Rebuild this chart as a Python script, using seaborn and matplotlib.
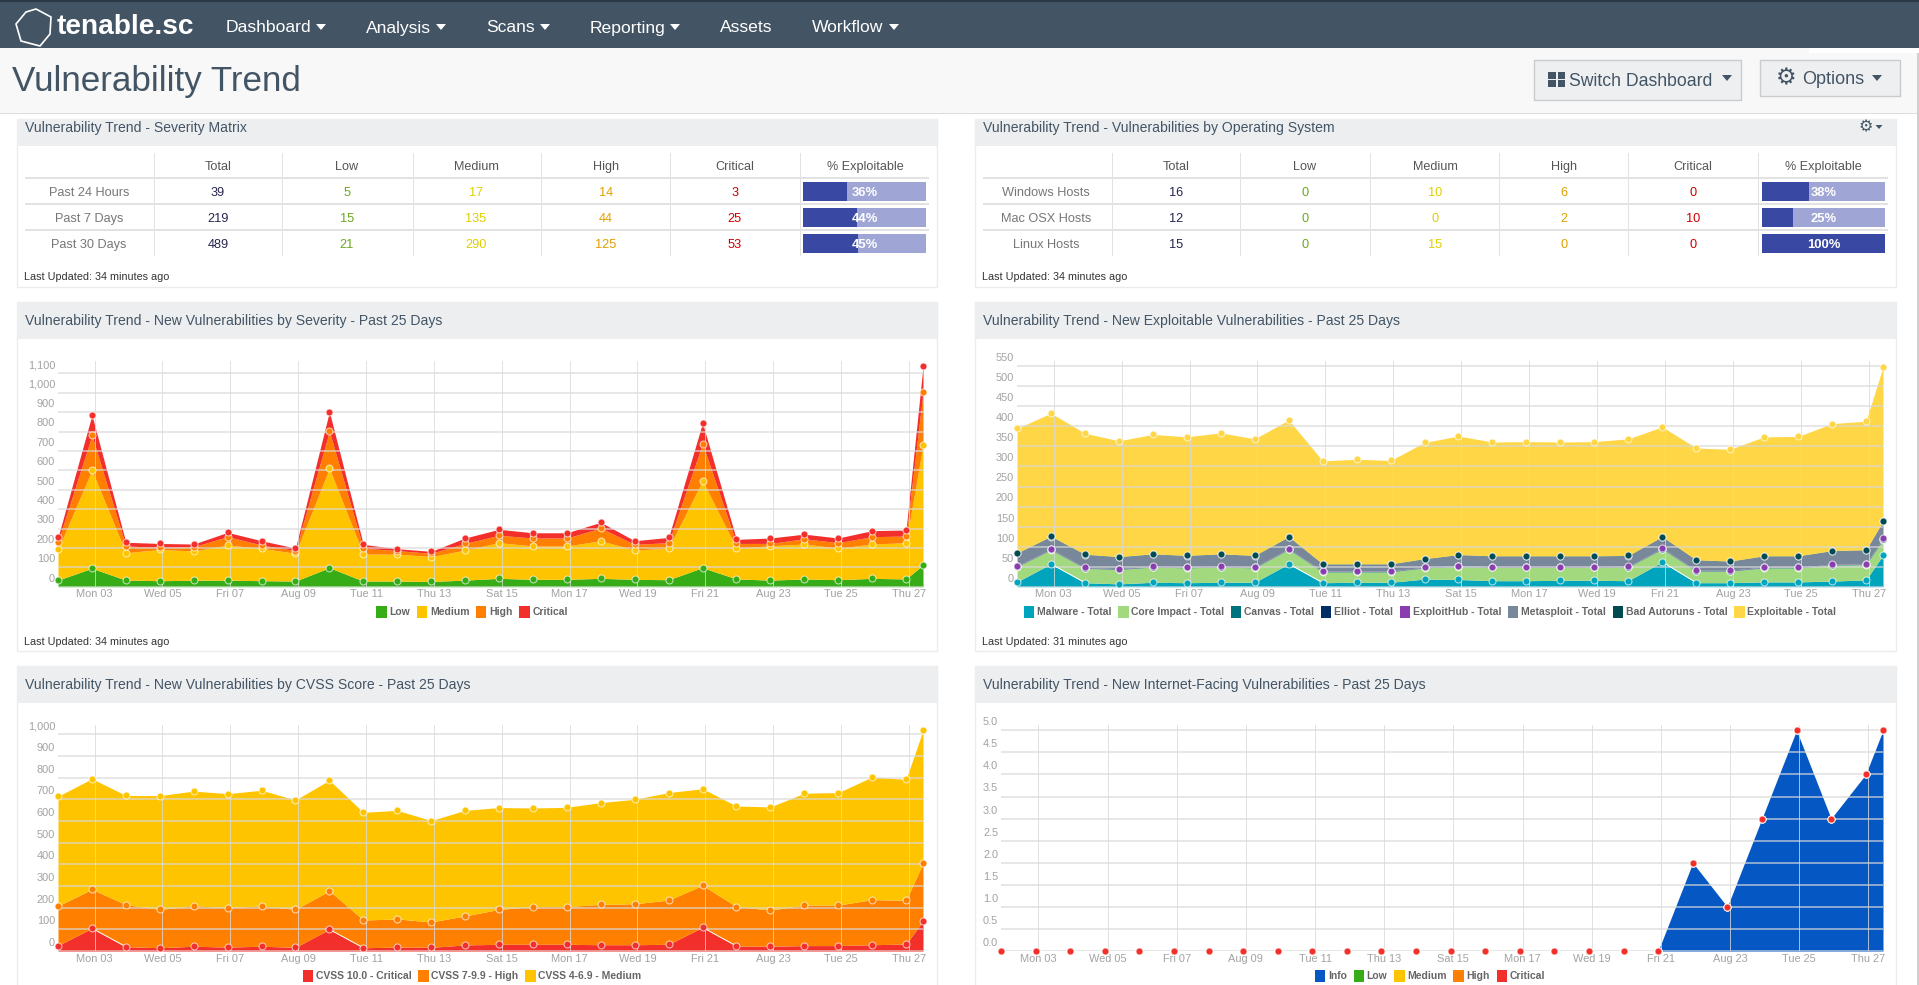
import numpy as np
import pandas as pd
import matplotlib
matplotlib.use("Agg")
import matplotlib.pyplot as plt
from matplotlib.patches import Rectangle, Polygon, Patch
from matplotlib.transforms import ScaledTranslation
import seaborn as sns

# ---------- data (stack tops) ----------
point_pos = [i for i in range(26)] + [25.5]
tick_labels = ["Mon 03", "Wed 05", "Fri 07", "Aug 09", "Tue 11", "Thu 13", "Sat 15",
               "Mon 17", "Wed 19", "Fri 21", "Aug 23", "Tue 25", "Thu 27"]
tick_pos = [1.08 + 2 * i for i in range(13)]

sev_low = [34, 95, 34, 31, 33, 34, 31, 29, 98, 29, 29, 27, 34, 43, 38, 38, 43, 38, 36, 98, 40, 34, 40, 36, 43, 40, 113]
sev_medium = [192, 601, 175, 192, 184, 215, 198, 172, 610, 168, 168, 155, 189, 227, 210, 210, 237, 189, 199, 546, 199, 211, 220, 199, 220, 227, 730]
sev_high = [232, 780, 210, 203, 206, 258, 215, 186, 801, 198, 186, 172, 223, 265, 251, 251, 302, 218, 227, 737, 223, 223, 247, 227, 258, 261, 1002]
sev_critical = [254, 885, 229, 223, 220, 280, 237, 199, 902, 218, 196, 182, 251, 296, 278, 278, 332, 237, 254, 844, 244, 251, 271, 251, 289, 292, 1136]

exp_malware = [12, 57, 10, 7, 11, 10, 11, 11, 57, 10, 11, 11, 19, 18, 15, 15, 16, 16, 15, 62, 10, 10, 12, 12, 14, 17, 79]
exp_core = [50, 92, 46, 43, 49, 47, 49, 47, 93, 37, 37, 37, 47, 50, 48, 48, 48, 48, 49, 94, 39, 39, 47, 47, 54, 55, 117]
exp_canvas = [51, 93, 47, 44, 50, 48, 50, 48, 94, 38, 38, 38, 48, 51, 49, 49, 49, 49, 50, 95, 40, 40, 48, 48, 55, 56, 119]
exp_elliot = [51, 93, 47, 44, 50, 48, 50, 48, 94, 38, 38, 38, 48, 51, 49, 49, 49, 49, 50, 95, 40, 40, 48, 48, 55, 56, 120]
exp_exploithub = [52, 94, 48, 45, 51, 49, 51, 49, 95, 39, 39, 39, 49, 52, 50, 50, 50, 50, 51, 96, 41, 41, 49, 49, 56, 57, 121]
exp_metasploit = [83, 125, 80, 74, 81, 77, 81, 77, 124, 56, 56, 56, 69, 79, 76, 76, 76, 76, 77, 124, 66, 63, 76, 76, 89, 91, 163]
exp_autoruns = [84, 126, 81, 75, 82, 78, 82, 78, 125, 57, 57, 57, 70, 80, 77, 77, 77, 77, 78, 125, 67, 64, 77, 77, 90, 92, 164]
exp_total = [395, 433, 383, 364, 380, 374, 384, 369, 416, 314, 318, 315, 360, 376, 361, 362, 361, 362, 369, 399, 346, 343, 374, 375, 407, 413, 549]

cvss_critical = [25, 105, 20, 15, 22, 18, 22, 17, 100, 15, 18, 17, 28, 31, 31, 31, 29, 29, 31, 109, 23, 22, 25, 25, 29, 32, 138]
cvss_high = [208, 285, 214, 192, 208, 200, 208, 192, 278, 143, 148, 134, 162, 192, 205, 205, 215, 218, 235, 303, 205, 189, 212, 212, 237, 234, 406]
cvss_medium = [714, 795, 718, 717, 738, 726, 742, 697, 788, 640, 649, 602, 649, 662, 660, 663, 685, 700, 731, 749, 669, 665, 728, 731, 803, 792, 1018]

net_info = [0, 0, 0, 0, 0, 0, 0, 0, 0, 0, 0, 0, 0, 0, 0, 0, 0, 0, 0, 0, 2, 1, 3, 5, 3, 4, 5]

matrix_rows = ["Past 24 Hours", "Past 7 Days", "Past 30 Days"]
matrix_vals = [[39, 5, 17, 14, 3], [219, 15, 135, 44, 25], [489, 21, 290, 125, 53]]
matrix_pct = [36, 44, 45]
os_rows = ["Windows Hosts", "Mac OSX Hosts", "Linux Hosts"]
os_vals = [[16, 0, 10, 6, 0], [12, 0, 0, 2, 10], [15, 0, 15, 0, 0]]
os_pct = [38, 25, 100]
col_heads = ["Total", "Low", "Medium", "High", "Critical", "% Exploitable"]
nav_items = ["Dashboard", "Analysis", "Scans", "Reporting", "Assets", "Workflow"]

# ---------- colours ----------
C_CRIT, C_HIGH, C_MED, C_LOW, C_INFO = "#F32F2B", "#FF8000", "#FFC400", "#36AC16", "#0558C4"
C_NAV, C_HEAD, C_LINE = "#435565", "#EDEEF0", "#E2E2E2"
val_colors = ["#25254F", "#6AA81F", "#DFCF00", "#E0A100", "#CC0000"]

# ---------- figure ----------
sns.set_theme(style="white")
plt.rcParams["font.family"] = ["Liberation Sans", "DejaVu Sans"]
W, H = 1919, 985
fig = plt.figure(figsize=(W / 100, H / 100), dpi=100, facecolor="white")
bg = fig.add_axes([0, 0, 1, 1], zorder=0)
bg.set_xlim(0, W)
bg.set_ylim(H, 0)
bg.axis("off")


def rect(x0, y0, x1, y1, fc, ec="none", lw=0, z=1):
    bg.add_patch(Rectangle((x0, y0), x1 - x0, y1 - y0, fc=fc, ec=ec, lw=lw, zorder=z))


def txt(x, y, s, px, color="#333333", ha="center", weight="normal", family=None, z=5):
    kw = {"family": family} if family else {}
    bg.text(x, y, s, fontsize=px * 0.72, color=color, ha=ha, va="center", weight=weight, zorder=z, **kw)


def tri(x, y, w=10, h=6, color="white"):
    bg.add_patch(Polygon([(x - w / 2, y - h / 2), (x + w / 2, y - h / 2), (x, y + h / 2)], fc=color, ec="none", zorder=5))


# top chrome
rect(0, 0, W, 48, C_NAV)
rect(0, 0, W, 2, "#2B3845")
rect(0, 48, W, 113, "#F8F8F8")
rect(0, 113, W, 114, "#DDDDDD")
rect(1809, 48, W, 53, "white")
rect(1917, 53, W, H, "#CFCFCF")
bg.add_patch(Polygon([(26, 12), (36, 9), (51, 17), (50, 34), (40, 46), (21, 41), (16, 24)],
                     fc="none", ec="white", lw=1.2, zorder=5))
txt(57, 27, "tenable.sc", 28, "white", ha="left", weight="bold")
for name, x, tx in zip(nav_items, [226, 366, 486, 590, 720, 812], [321, 441, 545, 675, None, 894]):
    txt(x, 28, name, 17.5, "white", ha="left")
    if tx:
        tri(tx, 27)
txt(12, 82, "Vulnerability Trend", 35, "#435565", ha="left")

rect(1534, 60, 1741, 100, "#EEEFF1", "#C9CCCF", 1)
for ix, iy in [(1548, 72), (1557.5, 72), (1548, 80), (1557.5, 80)]:
    rect(ix, iy, ix + 7.5, iy + 6.5, "#435565", z=5)
txt(1569, 81, "Switch Dashboard", 17.6, "#435565", ha="left")
tri(1727, 78, color="#435565")
rect(1760, 60, 1900, 96, "#EEEFF1", "#C9CCCF", 1)
txt(1786, 78, "\u2699", 23, "#435565", family="DejaVu Sans", weight="bold")
txt(1802, 80, "Options", 18, "#435565", ha="left")
tri(1877, 78, color="#435565")


def panel(x0, x1, head0, head1, bottom, title, updated=None, upd_y=None, title_y=None):
    rect(x0, head0, x1, bottom, "white", "#ECECEC", 1)
    rect(x0, head0, x1, head1, C_HEAD)
    txt(x0 + 8, title_y if title_y else (head0 + head1) / 2, title, 14, "#435565", ha="left")
    if updated:
        txt(x0 + 7, upd_y, updated, 10.7, "#333333", ha="left")


LX, RX = (17, 937), (975, 1896)
panel(*LX, 119, 146, 287, "Vulnerability Trend - Severity Matrix", "Last Updated: 34 minutes ago", 277, 128)
panel(*RX, 119, 146, 287, "Vulnerability Trend - Vulnerabilities by Operating System", "Last Updated: 34 minutes ago", 277, 128)
txt(1866, 127, "\u2699", 16, "#435565", family="DejaVu Sans", weight="bold")
tri(1879, 127, 7, 4, "#435565")
panel(*LX, 302, 339, 651, "Vulnerability Trend - New Vulnerabilities by Severity - Past 25 Days", "Last Updated: 34 minutes ago", 642)
panel(*RX, 302, 339, 651, "Vulnerability Trend - New Exploitable Vulnerabilities - Past 25 Days", "Last Updated: 31 minutes ago", 642)
panel(*LX, 666, 703, 990, "Vulnerability Trend - New Vulnerabilities by CVSS Score - Past 25 Days")
panel(*RX, 666, 703, 990, "Vulnerability Trend - New Internet-Facing Vulnerabilities - Past 25 Days")


def table(left, right, vlines, centers, bar0, bar1, rows, vals, pct):
    for v in vlines:
        rect(v - 0.5, 153, v + 0.5, 256, C_LINE)
    for y in (178, 204, 230):
        rect(left, y - 0.7, right, y + 0.7, C_LINE)
    for c, h in zip(centers[1:], col_heads):
        txt(c, 167, h, 12.6, "#555555")
    for r, (name, row, p) in enumerate(zip(rows, vals, pct)):
        y = 192 + 26 * r
        txt(centers[0], y + 1, name, 12.8, "#777777")
        for c, v, col in zip(centers[1:6], row, val_colors):
            txt(c, y + 1, str(v), 12.8, col)
        rect(bar0, y - 10, bar1, y + 9, "#9FA6D5")
        rect(bar0, y - 10, bar0 + (bar1 - bar0) * p / 100, y + 9, "#3949A3")
        txt((bar0 + bar1) / 2, y + 1, f"{p}%", 13, "white", weight="bold")


table(25, 929, [154, 282, 413, 541, 670, 800], [89, 218, 347, 476, 606, 735, 865], 803, 926,
      matrix_rows, matrix_vals, matrix_pct)
table(983, 1888, [1112, 1240, 1370, 1499, 1628, 1758], [1046, 1176, 1305, 1435, 1564, 1693, 1823], 1762, 1885,
      os_rows, os_vals, os_pct)


def chart(left, right, top, base, ref_val, ref_px, ytick_vals, ytick_txt, layers, legend_x, legend_y, white_tail=None):
    ax = fig.add_axes([left / W, 1 - base / H, (right - left) / W, (base - top) / H], zorder=2)
    ax.patch.set_alpha(0)
    ymax = ref_val * (base - top) / (base - ref_px)
    prev = np.zeros(len(point_pos))
    for name, tops, color in layers:
        ax.fill_between(point_pos, prev, tops, color=color, lw=0, zorder=1)
        prev = np.array(tops, dtype=float)
    for name, tops, color in layers:
        df = pd.DataFrame({"x": point_pos, "y": tops})
        sns.lineplot(data=df, x="x", y="y", ax=ax, color=color, lw=0, marker="o", markersize=5.0,
                     markeredgecolor="#FFFFFFA0", markeredgewidth=0.8, clip_on=False, zorder=4,
                     estimator=None, errorbar=None)
    if white_tail is not None:
        for i in (1, 8, 19):
            ax.plot(point_pos[i:i + 2], white_tail[i:i + 2], color="white", lw=0.7, zorder=3)
    ax.set_xlim(0, 25.5)
    ax.set_ylim(0, ymax)
    ax.set_xticks(tick_pos, tick_labels)
    ax.set_yticks(ytick_vals, ytick_txt)
    ax.set(xlabel="", ylabel="")
    ax.set_axisbelow(False)
    ax.grid(axis="y", color="#D9D9D9", lw=1.1, alpha=0.8)
    ax.grid(axis="x", color="#D9D9D9", lw=0.7, alpha=0.8)
    ax.tick_params(axis="both", length=0, labelsize=7.9, labelcolor="#A2A2A2")
    ax.tick_params(axis="x", pad=2)
    ax.tick_params(axis="y", pad=2)
    shift = ScaledTranslation(0, 2.2 / 72, fig.dpi_scale_trans)
    for lbl in ax.get_yticklabels():
        lbl.set_va("bottom")
        lbl.set_transform(lbl.get_transform() + shift)
    sns.despine(ax=ax, left=True, bottom=True)
    handles = [Patch(fc=c, ec="none", label=n) for n, _, c in layers]
    fig.legend(handles=handles, loc="center", bbox_to_anchor=(legend_x / W, 1 - legend_y / H), ncol=len(layers),
               frameon=False, prop={"size": 7.5, "weight": "bold"}, labelcolor="#666666", handlelength=1.0,
               handleheight=1.3, handletextpad=0.25, columnspacing=0.65, borderpad=0, borderaxespad=0)
    return ax


chart(58, 923, 361, 586.7, 1100, 373.3, list(range(0, 1101, 100)),
      [f"{v:,}" for v in range(0, 1101, 100)],
      [("Low", sev_low, C_LOW), ("Medium", sev_medium, C_MED), ("High", sev_high, C_HIGH), ("Critical", sev_critical, C_CRIT)],
      472, 612)
chart(1017, 1883, 361, 586.7, 550, 366.3, list(range(0, 551, 50)), [str(v) for v in range(0, 551, 50)],
      [("Malware - Total", exp_malware, "#00A5BD"), ("Core Impact - Total", exp_core, "#A2D97E"),
       ("Canvas - Total", exp_canvas, "#00737C"), ("Elliot - Total", exp_elliot, "#002F65"),
       ("ExploitHub - Total", exp_exploithub, "#8A3DAE"), ("Metasploit - Total", exp_metasploit, "#78889A"),
       ("Bad Autoruns - Total", exp_autoruns, "#004B52"), ("Exploitable - Total", exp_total, "#FFD645")],
      1430, 612, white_tail=exp_malware)
chart(58, 923, 725, 951, 1000, 734.3, list(range(0, 1001, 100)), [f"{v:,}" for v in range(0, 1001, 100)],
      [("CVSS 10.0 - Critical", cvss_critical, C_CRIT), ("CVSS 7-9.9 - High", cvss_high, C_HIGH),
       ("CVSS 4-6.9 - Medium", cvss_medium, C_MED)],
      472, 976, white_tail=cvss_critical)
chart(1001, 1883, 725, 951, 5.0, 730.3, [i * 0.5 for i in range(11)], [f"{i * 0.5:.1f}" for i in range(11)],
      [("Info", net_info, C_INFO), ("Low", net_info, C_LOW), ("Medium", net_info, C_MED),
       ("High", net_info, C_HIGH), ("Critical", net_info, C_CRIT)],
      1430, 976)

fig.savefig("out.png", dpi=100)
